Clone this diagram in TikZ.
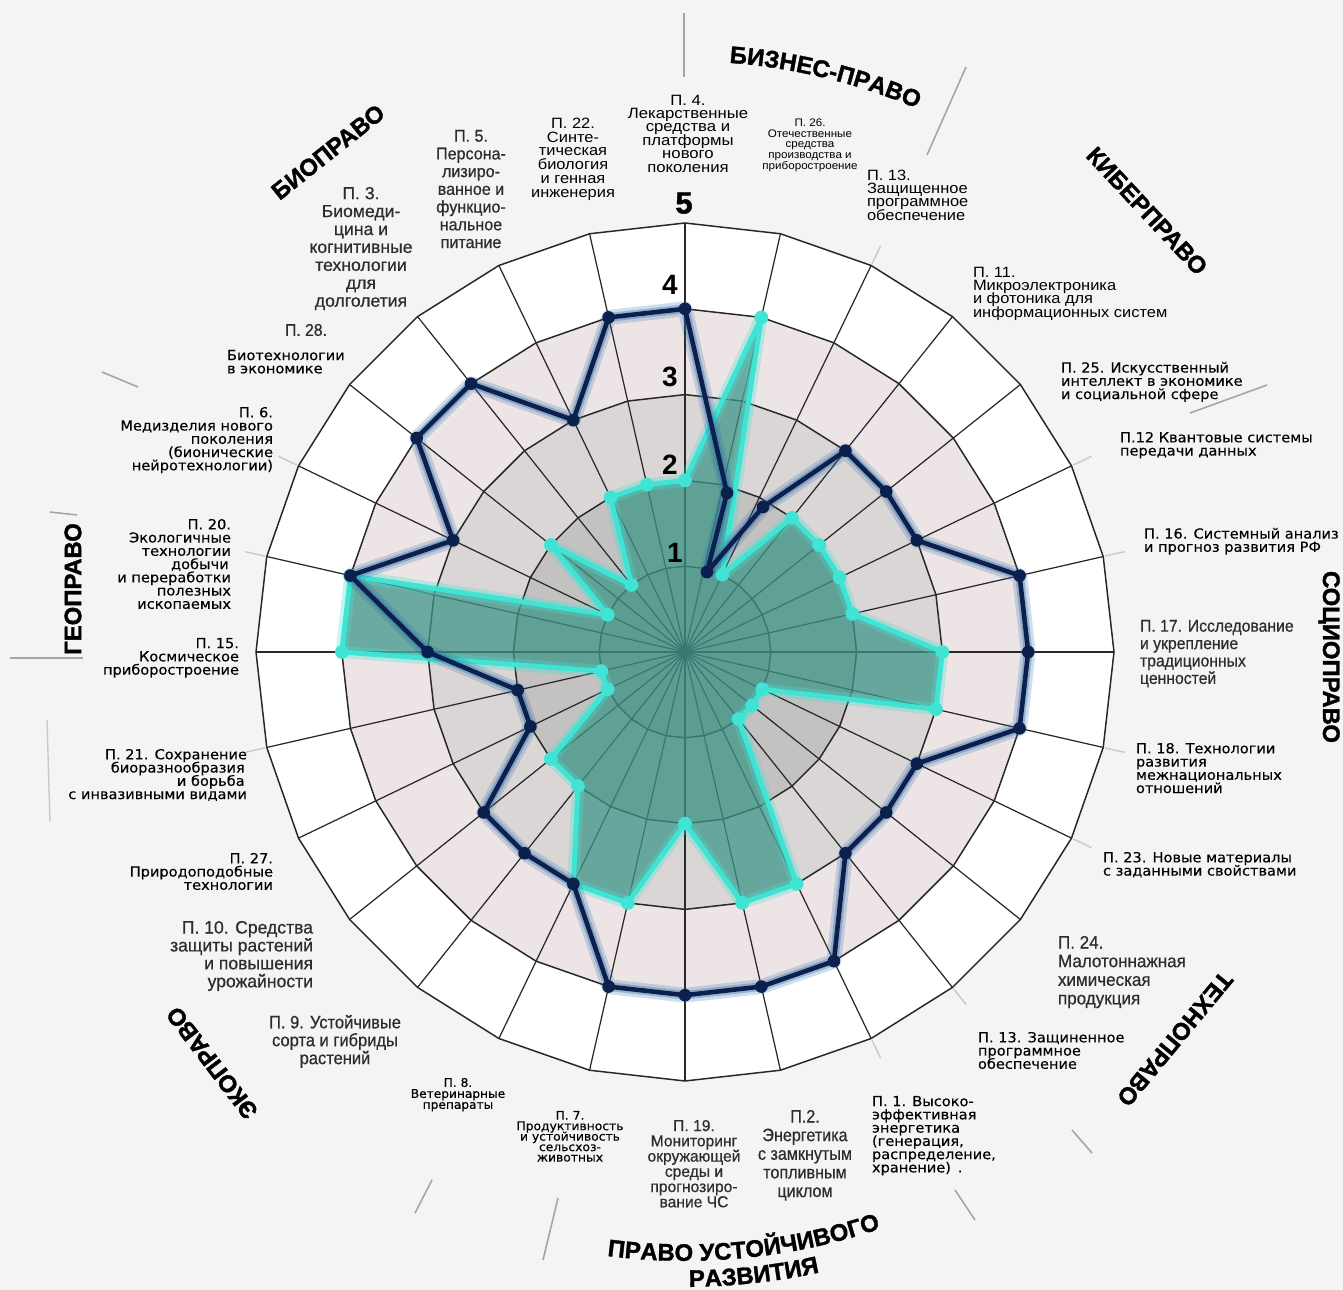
\documentclass[tikz,border=0pt]{standalone}
\usepackage{fontspec}
\setmainfont{Liberation Sans}
\newfontfamily\fa{Liberation Sans}
\newfontfamily\fan[FakeBold=0.6]{Liberation Sans}
\newfontfamily\fw[FakeBold=0.3]{DejaVu Sans}
\newfontfamily\ft[FakeBold=1.5]{Liberation Sans}
\usetikzlibrary{decorations.text,calc}
\definecolor{bg}{RGB}{244,244,244}
\definecolor{rA}{RGB}{180,178,178}
\definecolor{rB}{RGB}{196,193,193}
\definecolor{rC}{RGB}{218,214,214}
\definecolor{rD}{RGB}{237,229,229}
\definecolor{gridc}{RGB}{40,40,40}
\definecolor{tealf}{RGB}{62,150,136}
\definecolor{cyanl}{RGB}{64,228,212}
\definecolor{navy}{RGB}{12,32,78}
\definecolor{navyglow}{RGB}{45,105,170}
\definecolor{labg}{RGB}{45,45,45}
\definecolor{divc}{RGB}{165,165,165}
\newcommand\labA[3]{\fa\fontsize{#1}{#2}\selectfont\addfontfeature{FakeStretch=#3}\lineskiplimit=-100pt\relax}
\newcommand\labN[3]{\fan\fontsize{#1}{#2}\selectfont\addfontfeature{FakeStretch=#3}\lineskiplimit=-100pt\relax}
\newcommand\labW[3]{\fw\fontsize{#1}{#2}\selectfont\addfontfeature{FakeStretch=#3}\lineskiplimit=-100pt\relax}
\newcommand\ttlfont{\ft\bfseries\fontsize{13.6}{14}\selectfont}
\begin{document}
\begin{tikzpicture}[x=0.02cm,y=-0.02cm,
  gridl/.style={draw=gridc, line width=0.7pt},
  ringl/.style={draw=gridc, line width=0.85pt, line join=round},
  divl/.style={draw=divc, line width=0.9pt},
  stubl/.style={draw=divc!60, line width=0.8pt},
  lab/.style={inner sep=0pt, outer sep=0pt},
  wlab/.style={inner sep=0pt, outer sep=0pt, font=\labW{7.9}{7.54}{1.05}},
  numl/.style={inner sep=0pt, font=\fa\bfseries\fontsize{15.9}{16}\selectfont},
  ttl/.style={inner sep=0pt, font=\ttlfont},
  cdot/.style={circle, fill=cyanl, inner sep=0pt, minimum size=7.8pt},
  ddot/.style={circle, fill=navy, inner sep=0pt, minimum size=7.2pt}]
\def\U{85.8}
\useasboundingbox (0,0) rectangle (1343,1290);
\fill[bg] (0,0) rectangle (1343,1290);
\coordinate (C) at (685,652);
\begin{scope}[shift={(685,652)}]
  % ring fills
  \foreach \rr/\col in {5/white,4/rD,3/rC,2/rB,1/rA}{
    \fill[\col] (-90:{\rr*\U}) \foreach \k in {1,...,27}{ -- ({-90+\k*360/28}:{\rr*\U})} -- cycle;
  }
  % ring lines
  \foreach \rr in {1,...,5}{
    \draw[ringl] (-90:{\rr*\U}) \foreach \k in {1,...,27}{ -- ({-90+\k*360/28}:{\rr*\U})} -- cycle;
  }
  % spokes
  \foreach \k in {0,...,27}{
    \draw[gridl] (0,0) -- ({-90+\k*360/28}:{5*\U});
  }
  % stubs beyond outer vertices
  \foreach \k in {2,5,6,8,9,11,12,20,22,23}{
    \draw[stubl] ({-90+\k*360/28}:{5*\U+2}) -- ({-90+\k*360/28}:{5*\U+22});
  }
  % cyan series
  \foreach \k/\v in {0/2,1/4,2/1,3/2,4/2,5/2,6/2,7/3,8/3,9/1,10/1,11/1,12/3,13/3,14/2,15/3,16/3,17/2,18/2,19/1,20/1,21/4,22/4,23/1,24/2,25/1,26/2,27/2}{
    \coordinate (c\k) at ({-90+\k*360/28}:{\v*\U});
  }
  \fill[tealf, opacity=0.74] (c0) \foreach \k in {1,...,27}{ -- (c\k)} -- cycle;
  \draw[cyanl, opacity=0.3, line width=7pt, line join=round] (c0) \foreach \k in {1,...,27}{ -- (c\k)} -- cycle;
  \draw[cyanl, line width=2.8pt, line join=round] (c0) \foreach \k in {1,...,27}{ -- (c\k)} -- cycle;
  \foreach \k in {0,...,27}{ \node[cdot] (cd\k) at (c\k) {}; }
  % dark series
  \foreach \k/\v in {0/4,3/3,4/3,5/3,6/4,7/4,8/4,9/3,10/3,11/3,12/4,13/4,14/4,15/4,16/3,17/3,18/3,19/2,20/2,21/3,22/4,23/3,24/4,25/4,26/3,27/4}{
    \coordinate (d\k) at ({-90+\k*360/28}:{\v*\U});
  }
  \coordinate (dA) at (42,-159);
  \coordinate (dB) at (22,-80);
  \coordinate (d2) at (78,-145);
  \draw[navyglow, opacity=0.22, line width=8.5pt, line join=round] (d0) -- (dA) -- (dB) -- (d2) \foreach \k in {3,...,27}{ -- (d\k)} -- cycle;
  \draw[navyglow, opacity=0.35, line width=5pt, line join=round] (d0) -- (dA) -- (dB) -- (d2) \foreach \k in {3,...,27}{ -- (d\k)} -- cycle;
  \draw[navy, line width=2.6pt, line join=round] (d0) -- (dA) -- (dB) -- (d2) \foreach \k in {3,...,27}{ -- (d\k)} -- cycle;
  \foreach \k in {0,2,3,...,27}{ \node[ddot] (dd\k) at (d\k) {}; }
  \node[ddot] (ddA) at (dA) {};
  \node[ddot] (ddB) at (dB) {};
\end{scope}

% ring numbers
\node[numl] (n1) at (675,553) {1};
\node[numl] (n2) at (670,465) {2};
\node[numl] (n3) at (670,377) {3};
\node[numl] (n4) at (670,285) {4};
\node[inner sep=0pt, font=\ft\bfseries\fontsize{17.5}{18}\selectfont] (n5) at (684,203) {5};

% divider lines
\coordinate (l1a) at (684,13);   \coordinate (l1b) at (684,77);
\coordinate (l2a) at (966,67);   \coordinate (l2b) at (927,155);
\coordinate (l3a) at (1267,385); \coordinate (l3b) at (1190,413);
\coordinate (l4a) at (1072,1130);\coordinate (l4b) at (1092,1153);
\coordinate (l5a) at (955,1190); \coordinate (l5b) at (975,1220);
\coordinate (l6a) at (558,1198); \coordinate (l6b) at (543,1260);
\coordinate (l7a) at (432,1180); \coordinate (l7b) at (415,1213);
\coordinate (l8a) at (102,372);  \coordinate (l8b) at (138,387);
\coordinate (l9a) at (50,512);   \coordinate (l9b) at (77,515);
\coordinate (l10a) at (10,658);  \coordinate (l10b) at (83,658);
\coordinate (l11a) at (47,720);  \coordinate (l11b) at (50,822);
\foreach \i in {1,...,10}{ \draw[divl] (l\i a) -- (l\i b); }
\draw[stubl] (l11a) -- (l11b);

% category titles
\node[ttl, rotate=38.5] (tbio) at (328,152) {БИОПРАВО};
\node[ttl, rotate=-47] (tkib) at (1147,211) {КИБЕРПРАВО};
\node[ttl, rotate=-90] (tsoc) at (1329,657) {СОЦИОПРАВО};
\node[ttl, rotate=-129.6] (ttech) at (1175,1039) {ТЕХНОПРАВО};
\node[ttl, rotate=127.3] (teco) at (212,1063) {ЭКОПРАВО};
\node[ttl, rotate=90] (tgeo) at (73,589) {ГЕОПРАВО};
\path[decorate, decoration={text along path, text={|\ttlfont|БИЗНЕС-ПРАВО}, text align=center}]
  ($(C)+(106.3:11.82cm)$) arc[start angle=106.3, end angle=46.3, radius=11.82cm];
\path[decorate, decoration={text along path, text={|\ttlfont|ПРАВО УСТОЙЧИВОГО}, text align=center}]
  ($(C)+(245.7:12.18cm)$) arc[start angle=245.7, end angle=305.7, radius=12.18cm];
\path[decorate, decoration={text along path, text={|\ttlfont|РАЗВИТИЯ}, text align=center}]
  ($(C)+(246.3:12.7cm)$) arc[start angle=246.3, end angle=306.3, radius=12.7cm];

% labels: narrow / Arial-like group
\node[lab, anchor=north, align=center, text=labg, font=\labN{9.64}{10.09}{0.95}] (p5) at (471,130) {П. 5.\\Персона-\\лизиро-\\ванное и\\функцио-\\нальное\\питание};
\node[lab, anchor=north, align=center, font=\labA{8.5}{7.82}{1.1}] (p22) at (573,118) {П. 22.\\Синте-\\тическая\\биология\\и генная\\инженерия};
\node[lab, anchor=north, align=center, font=\labA{8.5}{7.6}{1.12}] (p4) at (688,95) {П. 4.\\Лекарственные\\средства и\\платформы\\нового\\поколения};
\node[lab, anchor=north, align=center, font=\labA{6.24}{6.07}{1.06}] (p26) at (810,119) {П. 26.\\Отечественные\\средства\\производства и\\приборостроение};
\node[lab, anchor=north west, align=left, font=\labA{8.5}{7.54}{1.1}] (p13t) at (867,170) {П. 13.\\Защищенное\\программное\\обеспечение};
\node[lab, anchor=north west, align=left, font=\labA{8.5}{7.54}{1.1}] (p11) at (973,267) {П. 11.\\Микроэлектроника\\и фотоника для\\информационных систем};
\node[lab, anchor=north west, align=left, text=labg, font=\labN{9.64}{9.92}{0.93}] (p17) at (1140,620) {П. 17. Исследование\\и укрепление\\традиционных\\ценностей};
\node[lab, anchor=north west, align=left, text=labg, font=\labN{10.2}{10.6}{0.95}] (p24) at (1058,936) {П. 24.\\Малотоннажная\\химическая\\продукция};
\node[lab, anchor=north, align=center, text=labg, font=\labN{9.07}{8.67}{0.98}] (p19) at (694,1120) {П. 19.\\Мониторинг\\окружающей\\среды и\\прогнозиро-\\вание ЧС};
\node[lab, anchor=north, align=center, text=labg, font=\labN{10.2}{10.6}{0.9}] (p2) at (805,1110) {П.2.\\Энергетика\\с замкнутым\\топливным\\циклом};
\node[lab, anchor=north east, align=right, text=labg, font=\labN{10.2}{10.2}{0.98}] (p10) at (313,921) {П. 10. Средства\\защиты растений\\и повышения\\урожайности};
\node[lab, anchor=north, align=center, text=labg, font=\labN{10.2}{10.2}{0.92}] (p9) at (335,1015) {П. 9. Устойчивые\\сорта и гибриды\\растений};
\node[lab, anchor=north, align=center, text=labg, font=\labN{9.92}{10.2}{1.01}] (p3) at (361,187) {П. 3.\\Биомеди-\\цина и\\когнитивные\\технологии\\для\\долголетия};
\node[lab, anchor=north, align=center, text=labg, font=\labN{9.64}{10}{0.93}] (p28) at (306,324) {П. 28.};

% labels: wide group
\node[wlab, anchor=north west, align=left] (p25) at (1061,362) {П. 25. Искусственный\\интеллект в экономике\\и социальной сфере};
\node[wlab, anchor=north west, align=left] (p12) at (1120,432) {П.12 Квантовые системы\\передачи данных};
\node[wlab, anchor=north west, align=left] (p16) at (1144,528) {П. 16. Системный анализ\\и прогноз развития РФ};
\node[wlab, anchor=north west, align=left] (p18) at (1136,743) {П. 18. Технологии\\развития\\межнациональных\\отношений};
\node[wlab, anchor=north west, align=left] (p23) at (1103,852) {П. 23. Новые материалы\\с заданными свойствами};
\node[wlab, anchor=north west, align=left] (p13b) at (978,1032) {П. 13. Защиненное\\программное\\обеспечение};
\node[wlab, anchor=north west, align=left] (p1) at (872,1096) {П. 1. Высоко-\\эффективная\\энергетика\\(генерация,\\распределение,\\хранение)\enspace.};
\node[wlab, anchor=north east, align=right] (p6) at (273,407) {П. 6.\\Медизделия нового\\поколения\\(бионические\\нейротехнологии)};
\node[wlab, anchor=north east, align=right] (p20) at (231,519) {П. 20.\\Экологичные\\технологии\\добычи\,\\и переработки\\полезных\\ископаемых};
\node[wlab, anchor=north east, align=right] (p15) at (239,638) {П. 15.\\Космическое\\приборостроение};
\node[wlab, anchor=north east, align=right] (p21) at (247,749) {П. 21. Сохранение\\биоразнообразия\,\\и борьба\,\\с инвазивными видами};
\node[wlab, anchor=north east, align=right] (p27) at (273,853) {П. 27.\\Природоподобные\\технологии};
\node[wlab, anchor=north west, align=left] (p28b) at (227,350) {Биотехнологии\\в экономике};
\node[lab, anchor=north, align=center, font=\labW{6.8}{6.24}{1.02}] (p8) at (458,1078) {П. 8.\\Ветеринарные\\препараты};
\node[lab, anchor=north, align=center, font=\labW{6.8}{5.95}{1.03}] (p7) at (570,1111) {П. 7.\\Продуктивность\\и устойчивость\\сельсхоз-\\животных};
\end{tikzpicture}
\end{document}
